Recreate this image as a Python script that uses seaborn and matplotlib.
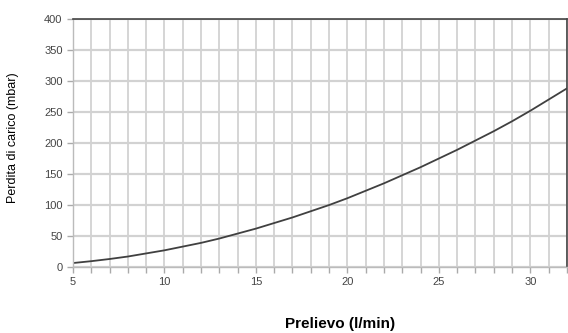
import numpy as np
import pandas as pd
import seaborn as sns
import matplotlib.pyplot as plt

# flow rate (l/min) and pressure drop (mbar)
prelievo = [5, 6, 7, 8, 9, 10, 11, 12, 13, 14, 15, 16, 17, 18, 19, 20,
            21, 22, 23, 24, 25, 26, 27, 28, 29, 30, 31, 32]
perdita = [6.5, 9.5, 13, 17, 22, 27, 33, 39, 46, 54, 62, 71, 80, 90, 100, 111,
           123, 135, 148, 161, 175, 189, 204, 219, 235, 252, 270, 288]

x_ticks = [5, 10, 15, 20, 25, 30]
y_ticks = [0, 50, 100, 150, 200, 250, 300, 350, 400]

df = pd.DataFrame({"Prelievo": prelievo, "Perdita": perdita})

sns.set_style("white")
plt.rcParams['font.family'] = ['Liberation Sans', 'DejaVu Sans']

fig = plt.figure(figsize=(5.68, 3.33), dpi=100)
ax = fig.add_axes([0.1285, 0.198, 0.8695, 0.745])

sns.lineplot(data=df, x="Prelievo", y="Perdita", ax=ax, color="#404040", linewidth=1.3)

ax.set_xlim(5, 32)
ax.set_ylim(0, 400)
ax.set_xticks(x_ticks)
ax.set_xticks(range(5, 33), minor=True)
ax.set_yticks(y_ticks)

ax.grid(True, which="both", axis="x", color="#d2d2d2", linewidth=1.3)
ax.grid(True, which="major", axis="y", color="#d2d2d2", linewidth=1.6)
ax.set_axisbelow(True)

for side in ["top", "right"]:
    ax.spines[side].set_color("#444444")
    ax.spines[side].set_linewidth(1.2)
for side in ["left", "bottom"]:
    ax.spines[side].set_color("#bbbbbb")
    ax.spines[side].set_linewidth(1.0)

ax.tick_params(axis="both", which="both", direction="out", colors="#aaaaaa",
               labelcolor="#444444", labelsize=8, bottom=True, left=True)
ax.tick_params(axis="both", which="major", length=4, width=1)
ax.tick_params(axis="x", which="minor", length=4, width=1)

ax.set_xlabel("Prelievo (l/min)", fontsize=11, fontweight="bold", color="black")
ax.xaxis.set_label_coords(0.54, -0.2)
ax.set_ylabel("Perdita di carico (mbar)", fontsize=9, color="black")
ax.yaxis.set_label_coords(-0.11, 0.52)

fig.savefig("out.png", dpi=100)
